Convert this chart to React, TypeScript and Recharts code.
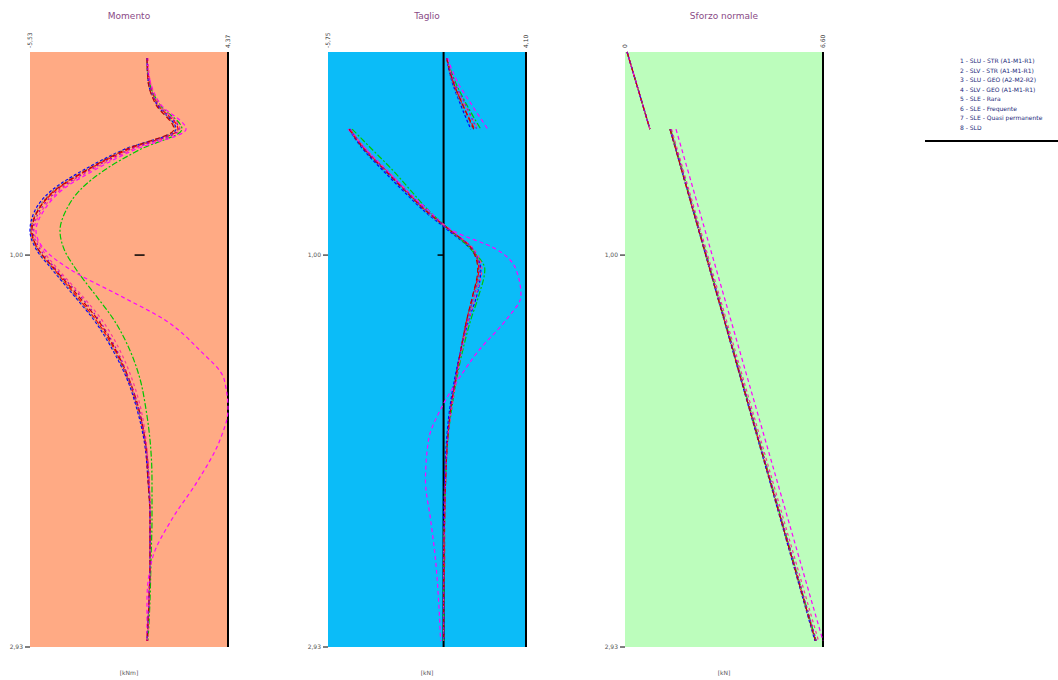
import React from 'react';
import { LineChart, Line, XAxis, YAxis, CartesianGrid, ReferenceLine } from 'recharts';

// depth [m] of each sample row
const zM = [0.03, 0.14, 0.26, 0.38, 0.48, 0.58, 0.68, 0.78, 0.88, 0.97, 1.07, 1.2, 1.32, 1.47, 1.61, 1.76, 1.91, 2.11, 2.3, 2.5, 2.7, 2.9];
const zV = [0.03, 0.14, 0.26, 0.38, 0.38, 0.38, 0.48, 0.58, 0.68, 0.78, 0.88, 0.97, 1.07, 1.2, 1.32, 1.47, 1.61, 1.76, 1.91, 2.11, 2.3, 2.5, 2.7, 2.9];
const zN = [0.0, 0.38, 0.38, 0.38, 2.9];

const combos = [
  '1 - SLU - STR (A1-M1-R1)',
  '2 - SLV - STR (A1-M1-R1)',
  '3 - SLU - GEO (A2-M2-R2)',
  '4 - SLV - GEO (A1-M1-R1)',
  '5 - SLE - Rara',
  '6 - SLE - Frequente',
  '7 - SLE - Quasi permanente',
  '8 - SLD',
];

// Momento [kNm]
const m1 = [0.32, 0.42, 0.87, 1.87, -0.63, -2.63, -4.23, -5.13, -5.48, -5.13, -4.33, -3.23, -2.23, -1.28, -0.63, -0.13, 0.22, 0.42, 0.47, 0.47, 0.42, 0.32];
const m2 = [0.32, 0.37, 0.82, 1.77, -0.83, -2.83, -4.43, -5.28, -5.53, -5.23, -4.43, -3.33, -2.33, -1.38, -0.68, -0.18, 0.17, 0.37, 0.47, 0.47, 0.42, 0.32];
const m3 = [0.32, 0.42, 0.97, 2.07, -0.03, -1.78, -3.03, -3.73, -4.03, -3.83, -3.23, -2.23, -1.33, -0.53, -0.03, 0.27, 0.47, 0.57, 0.57, 0.52, 0.47, 0.37];
const m4 = [0.32, 0.47, 1.02, 2.27, -0.28, -2.28, -3.93, -4.83, -5.23, -4.83, -3.53, -1.03, 1.22, 2.97, 4.17, 4.37, 3.97, 2.87, 1.57, 0.57, 0.32, 0.32];
const m5 = [0.32, 0.37, 0.82, 1.72, -0.78, -2.73, -4.33, -5.18, -5.48, -5.18, -4.38, -3.28, -2.28, -1.33, -0.63, -0.13, 0.22, 0.42, 0.47, 0.47, 0.42, 0.32];
const m6 = [0.37, 0.47, 0.97, 1.97, -0.43, -2.43, -4.03, -4.93, -5.33, -4.93, -4.13, -2.93, -1.93, -1.03, -0.43, 0.02, 0.27, 0.42, 0.47, 0.47, 0.42, 0.37];
const m7 = [0.32, 0.37, 0.77, 1.67, -0.73, -2.68, -4.28, -5.13, -5.43, -5.13, -4.28, -3.13, -2.13, -1.23, -0.58, -0.08, 0.22, 0.37, 0.47, 0.47, 0.42, 0.32];
const m8 = [0.32, 0.42, 0.87, 1.92, -0.53, -2.53, -4.13, -5.03, -5.38, -5.03, -4.23, -3.03, -2.08, -1.18, -0.58, -0.08, 0.22, 0.42, 0.47, 0.47, 0.42, 0.32];

// Taglio [kN] (null = jump at the support)
const v1 = [0.15, 0.45, 0.95, 1.55, null, -4.65, -3.9, -2.9, -1.9, -0.9, 0.35, 1.45, 1.75, 1.45, 1.15, 0.85, 0.6, 0.35, 0.2, 0.1, 0.05, 0.05, 0, 0];
const v2 = [0.15, 0.4, 0.85, 1.35, null, -4.7, -4.0, -3.05, -2.05, -1.0, 0.25, 1.35, 1.85, 1.65, 1.25, 0.85, 0.55, 0.3, 0.15, 0.05, 0, 0, 0, 0];
const v3 = [0.15, 0.55, 1.15, 1.85, null, -4.55, -3.55, -2.55, -1.65, -0.75, 0.35, 1.35, 2.05, 1.75, 1.35, 0.95, 0.65, 0.4, 0.2, 0.1, 0.05, 0, 0, 0];
const v4 = [0.2, 0.65, 1.4, 2.2, null, -4.75, -3.85, -2.85, -1.85, -0.75, 0.45, 2.6, 3.6, 3.85, 3.1, 1.75, 0.75, -0.15, -0.75, -0.9, -0.65, -0.4, -0.25, -0.15];
const v5 = [0.15, 0.4, 0.9, 1.45, null, -4.7, -3.95, -2.95, -1.95, -0.95, 0.3, 1.4, 1.8, 1.55, 1.2, 0.85, 0.6, 0.35, 0.2, 0.1, 0.05, 0, 0, 0];
const v6 = [0.15, 0.5, 1.05, 1.75, null, -4.65, -3.85, -2.85, -1.85, -0.85, 0.4, 1.5, 1.9, 1.6, 1.25, 0.9, 0.65, 0.4, 0.2, 0.1, 0.05, 0, 0, 0];
const v7 = [0.15, 0.45, 0.95, 1.5, null, -4.7, -3.95, -2.95, -1.95, -0.9, 0.35, 1.4, 1.7, 1.45, 1.15, 0.85, 0.6, 0.35, 0.2, 0.1, 0.05, 0, 0, 0];
const v8 = [0.15, 0.5, 1.1, 1.65, null, -4.65, -3.9, -2.9, -1.9, -0.85, 0.35, 1.45, 1.8, 1.5, 1.2, 0.85, 0.6, 0.35, 0.2, 0.1, 0.05, 0, 0, 0];

// Sforzo normale [kN]
const n1 = [0.07, 0.83, null, 1.5, 6.35];
const n2 = [0.07, 0.83, null, 1.5, 6.33];
const n3 = [0.07, 0.83, null, 1.52, 6.37];
const n4 = [0.07, 0.83, null, 1.7, 6.6];
const n5 = [0.07, 0.83, null, 1.5, 6.35];
const n6 = [0.07, 0.83, null, 1.55, 6.45];
const n7 = [0.07, 0.83, null, 1.5, 6.35];
const n8 = [0.07, 0.83, null, 1.52, 6.38];

const mDomain = [-5.53, 4.37];
const vDomain = [-5.75, 4.1];
const nDomain = [0, 6.6];
const zTicks = [1.0, 2.93];

const colors = ['#FF0000', '#0000FF', '#00C800', '#FF00FF', '#7F7F7F', '#FF3399', '#C00000', '#9900CC'];
const dashes = ['5 2', '3 2', '6 2 2 2', '4 3', '2 2', '3 3', '5 3', '2 3'];

// split a series at its null into separate segments (one dataKey each)
const split = (s: (number | null)[]) => {
  const j = s.indexOf(null);
  if (j < 0) return [s];
  return [s.map((v, i) => (i < j ? v : null)), s.map((v, i) => (i > j ? v : null))];
};

const table = (z: number[], series: (number | null)[][]) => {
  const keys: { key: string; k: number }[] = [];
  const parts = series.map((s, k) => {
    const p = split(s);
    p.forEach((_, q) => keys.push({ key: `s${k + 1}_${q}`, k }));
    return p;
  });
  const rows = z.map((d, i) => {
    const row: any = { z: d };
    parts.forEach((p, k) => p.forEach((seg, q) => (row[`s${k + 1}_${q}`] = seg[i])));
    return row;
  });
  return { rows, keys };
};

const fmt = (v: number) => (v === 0 ? '0' : v.toFixed(2).replace('.', ','));

const TopTick = (props: any) => {
  const { x, y, payload } = props;
  return (
    <text transform={`translate(${x + 2},${y + 4}) rotate(-90)`} fontSize={6} fill="#333" fontFamily="DejaVu Sans">
      {fmt(payload.value)}
    </text>
  );
};

function Panel({ left, title, unit, table, domain, bg, curve, zeroLine }: any) {
  const font = 'DejaVu Sans';
  return (
    <div style={{ position: 'absolute', left, top: 0, width: 260, height: 680 }}>
      <div style={{ position: 'absolute', left: 30, width: 198, top: 11, textAlign: 'center', fontSize: 9, color: '#8a4a86', fontFamily: font }}>
        {title}
      </div>
      <div style={{ position: 'absolute', left: 30, width: 198, top: 669, textAlign: 'center', fontSize: 6, color: '#555', fontFamily: font }}>
        {unit}
      </div>
      <LineChart width={260} height={680} data={table.rows} layout="vertical" margin={{ top: 22, right: 32, bottom: 33, left: 8 }}>
        <CartesianGrid fill={bg} stroke="none" horizontal={false} vertical={false} />
        <XAxis
          type="number"
          orientation="top"
          domain={domain}
          ticks={domain}
          interval={0}
          height={30}
          axisLine={false}
          tickLine={false}
          tick={<TopTick />}
        />
        <YAxis
          type="number"
          dataKey="z"
          domain={[0, 2.93]}
          ticks={zTicks}
          interval={0}
          width={22}
          axisLine={false}
          tickSize={5}
          tickLine={{ stroke: '#000' }}
          tickFormatter={fmt}
          tick={{ fontSize: 6, fill: '#555', fontFamily: font }}
        />
        <ReferenceLine x={domain[1]} stroke="#000" strokeWidth={2} />
        {zeroLine && <ReferenceLine x={0} stroke="#000" strokeWidth={2} />}
        <ReferenceLine segment={[{ x: -0.3, y: 1.0 }, { x: zeroLine ? 0 : 0.2, y: 1.0 }]} stroke="#000" strokeWidth={1.5} />
        {table.keys.map(({ key, k }: any) => (
          <Line
            key={key}
            type={curve}
            dataKey={key}
            stroke={colors[k]}
            strokeWidth={1.2}
            strokeDasharray={dashes[k]}
            dot={false}
            isAnimationActive={false}
          />
        ))}
      </LineChart>
    </div>
  );
}

export default function App() {
  const mTable = table(zM, [m1, m2, m3, m4, m5, m6, m7, m8]);
  const vTable = table(zV, [v1, v2, v3, v4, v5, v6, v7, v8]);
  const nTable = table(zN, [n1, n2, n3, n4, n5, n6, n7, n8]);
  return (
    <div style={{ position: 'absolute', left: 0, top: 0, width: 1058, height: 680, background: '#fff', overflow: 'hidden' }}>
      <Panel left={0} title="Momento" unit="[kNm]" table={mTable} domain={mDomain} bg="#FFAA84" curve="monotone" />
      <Panel left={298} title="Taglio" unit="[kN]" table={vTable} domain={vDomain} bg="#0BBCF8" curve="monotone" zeroLine />
      <Panel left={595} title="Sforzo normale" unit="[kN]" table={nTable} domain={nDomain} bg="#BCFDBC" curve="linear" />
      <div style={{ position: 'absolute', left: 960, top: 56, fontFamily: 'DejaVu Sans', fontSize: 6, lineHeight: '9.5px', color: '#1c2a7a', whiteSpace: 'nowrap' }}>
        {combos.map((c) => (
          <div key={c}>{c}</div>
        ))}
      </div>
      <div style={{ position: 'absolute', left: 925, top: 140, width: 133, height: 2, background: '#000' }} />
    </div>
  );
}
